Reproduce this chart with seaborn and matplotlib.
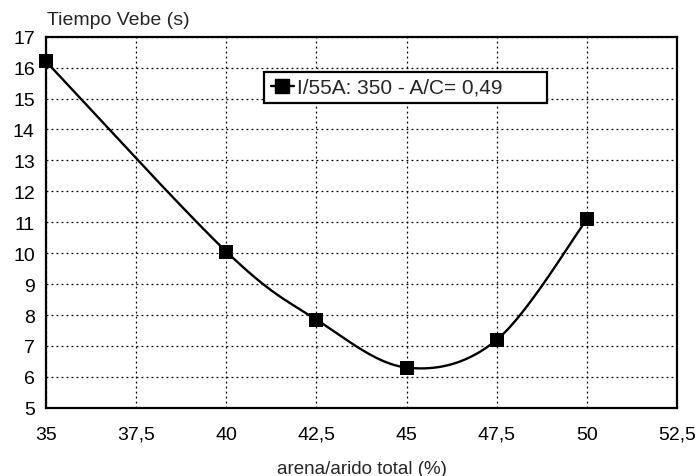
import numpy as np
import pandas as pd
import matplotlib
matplotlib.use("Agg")
import matplotlib.pyplot as plt
from matplotlib.lines import Line2D
import seaborn as sns

# Data
arena = [35, 40, 42.5, 45, 47.5, 50]
vebe = [16.2, 10.05, 7.85, 6.3, 7.2, 11.1]
serie = "I/55A: 350 - A/C= 0,49"

x_ticks = [35, 37.5, 40, 42.5, 45, 47.5, 50, 52.5]
y_ticks = list(range(5, 18))


def smooth_curve(xs, ys, n=60):
    """Excel-like smoothed line: cubic Bezier with Catmull-Rom tangents."""
    p = np.column_stack([xs, ys]).astype(float)
    p = np.vstack([p[0], p, p[-1]])
    out = []
    for i in range(1, len(p) - 2):
        p0, p1, p2, p3 = p[i - 1], p[i], p[i + 1], p[i + 2]
        c1 = p1 + (p2 - p0) / 6
        c2 = p2 - (p3 - p1) / 6
        t = np.linspace(0, 1, n)[:, None]
        seg = ((1 - t) ** 3) * p1 + 3 * ((1 - t) ** 2) * t * c1 + 3 * (1 - t) * t ** 2 * c2 + t ** 3 * p2
        out.append(seg if i == 1 else seg[1:])
    return np.vstack(out)


curve = smooth_curve(arena, vebe)
df_curve = pd.DataFrame({"x": curve[:, 0], "y": curve[:, 1]})
df_pts = pd.DataFrame({"x": arena, "y": vebe})

sns.set_style("white")
plt.rcParams["font.family"] = ["Liberation Sans", "DejaVu Sans"]

fig = plt.figure(figsize=(6.96, 4.77), dpi=100)
ax = fig.add_axes([0.066, 0.143, 0.907, 0.778])

sns.lineplot(data=df_curve, x="x", y="y", sort=False, estimator=None,
             color="black", linewidth=1.7, ax=ax)
sns.scatterplot(data=df_pts, x="x", y="y", marker="s", s=110, color="black",
                edgecolor="black", linewidth=0, ax=ax, zorder=5, clip_on=False)

ax.set_xlim(35, 52.5)
ax.set_ylim(5, 17)
ax.set_xticks(x_ticks)
ax.set_xticklabels([f"{v:g}".replace(".", ",") for v in x_ticks])
ax.set_yticks(y_ticks)
ax.set_yticklabels([str(v) for v in y_ticks])
ax.tick_params(axis="x", length=0, labelsize=14, pad=13, colors="black")
ax.tick_params(axis="y", length=0, labelsize=14, pad=8, colors="black")

ax.grid(True, color="black", linestyle=(0, (1.5, 2.5)), linewidth=0.9)
for sp in ax.spines.values():
    sp.set_color("black")
    sp.set_linewidth(1.6)

ax.set_xlabel("arena/arido total (%)", fontsize=13.5, labelpad=12)
ax.set_ylabel("")
fig.text(0.068, 0.94, "Tiempo Vebe (s)", fontsize=14, ha="left", va="bottom")

handle = Line2D([], [], color="black", marker="s", markersize=9.5, linewidth=1.7)
leg = ax.legend([handle], [serie], loc="upper left",
                bbox_to_anchor=(0.346, 0.819, 0.448, 0.087), mode="expand",
                fontsize=15, frameon=True, fancybox=False, framealpha=1,
                edgecolor="black", handlelength=1.1, handletextpad=0.15,
                borderpad=0.3, borderaxespad=0)
leg.get_frame().set_linewidth(1.6)

fig.savefig("out.png", dpi=100)
